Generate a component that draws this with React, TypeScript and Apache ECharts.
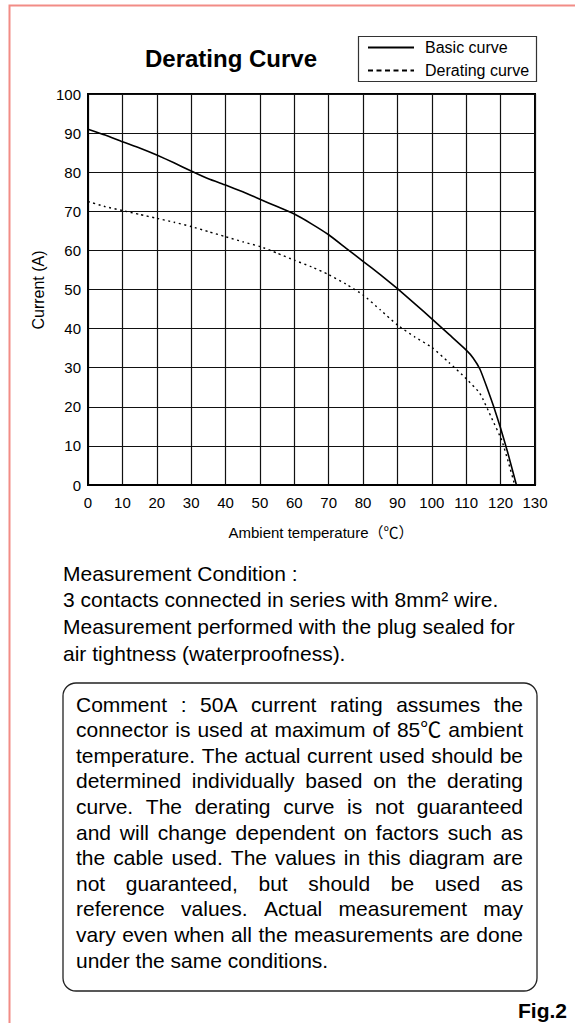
import React, { useEffect, useRef } from "react";
import * as echarts from "echarts";

// ---- Data ----
const basicTemps = [0, 5, 10, 15, 20, 25, 30, 35, 40, 45, 50, 55, 60, 65, 70, 75, 80, 85, 90, 95, 100, 105, 110, 112, 114, 116, 118, 120, 122, 124.6];
const basicCurrent = [91, 89.5, 87.8, 86.2, 84.4, 82.4, 80.3, 78.3, 76.7, 75.0, 73.1, 71.2, 69.3, 66.8, 64.0, 60.6, 57.2, 53.8, 50.2, 46.4, 42.5, 38.5, 34.5, 32.5, 29.6, 25.0, 20.0, 14.5, 8.5, 0];

const deratingTemps = [0, 5, 10, 15, 20, 25, 30, 35, 40, 45, 50, 55, 60, 65, 70, 75, 80, 85, 90, 95, 100, 105, 110, 114, 117.4, 120.3, 122.2, 124.1];
const deratingCurrent = [72.5, 71.2, 70.2, 69.2, 68.2, 67.2, 66.1, 64.8, 63.5, 62.2, 61.0, 59.3, 57.5, 55.8, 53.8, 51.4, 48.6, 44.8, 40.9, 37.9, 35.2, 31.3, 27.2, 23.4, 17.1, 11.5, 6.0, 0];

const seriesNames = ["Basic curve", "Derating curve"];
const chartTitle = "Derating Curve";
const xAxisName = "Ambient temperature（℃）";
const yAxisName = "Current (A)";
const figLabel = "Fig.2";

const measurementLines = [
  "Measurement Condition :",
  "3 contacts connected in series with 8mm² wire.",
  "Measurement performed with the plug sealed for",
  "air tightness (waterproofness).",
];

const commentLines = [
  "Comment : 50A current rating assumes the",
  "connector is used at maximum of 85℃ ambient",
  "temperature. The actual current used should be",
  "determined individually based on the derating",
  "curve. The derating curve is not guaranteed",
  "and will change dependent on factors such as",
  "the cable used. The values in this diagram are",
  "not guaranteed, but should be used as",
  "reference values. Actual measurement may",
  "vary even when all the measurements are done",
  "under the same conditions.",
];

const FONT = "'Liberation Sans', Arial, Helvetica, 'Noto Sans CJK JP', sans-serif";

export default function App() {
  const ref = useRef<HTMLDivElement>(null);

  useEffect(() => {
    document.body.style.margin = "0";
    if (!ref.current) return;
    const chart = echarts.init(ref.current, null, { renderer: "svg" });

    const bodySize = 21;
    const ctx = document.createElement("canvas").getContext("2d")!;
    ctx.font = `${bodySize}px ${FONT}`;
    const measure = (s: string) => ctx.measureText(s).width;

    const graphics: any[] = [];

    // outer red frame
    graphics.push({
      type: "rect",
      shape: { x: 9.5, y: 5.5, width: 700, height: 1200 },
      style: { fill: "none", stroke: "#f28c86", lineWidth: 2 },
      silent: true,
    });

    // title
    graphics.push({
      type: "text",
      x: 231,
      y: 58,
      style: { text: chartTitle, fontFamily: FONT, fontWeight: "bold", fontSize: 24, fill: "#000", align: "center", verticalAlign: "middle" },
    });

    // legend box
    graphics.push({
      type: "rect",
      shape: { x: 358.5, y: 36.5, width: 178, height: 45 },
      style: { fill: "#fff", stroke: "#333", lineWidth: 1.2 },
    });
    graphics.push({
      type: "line",
      shape: { x1: 368, y1: 47.5, x2: 414, y2: 47.5 },
      style: { stroke: "#000", lineWidth: 2 },
    });
    graphics.push({
      type: "line",
      shape: { x1: 368, y1: 70.5, x2: 414, y2: 70.5 },
      style: { stroke: "#000", lineWidth: 2, lineDash: [5, 3.5] },
    });
    seriesNames.forEach((name, i) => {
      graphics.push({
        type: "text",
        x: 425,
        y: 47 + i * 23,
        style: { text: name, fontFamily: FONT, fontSize: 16, fill: "#000", align: "left", verticalAlign: "middle" },
      });
    });

    // axis names
    graphics.push({
      type: "text",
      x: 321,
      y: 532,
      style: { text: xAxisName, fontFamily: FONT, fontSize: 15, fill: "#000", align: "center", verticalAlign: "middle" },
    });
    graphics.push({
      type: "text",
      x: 38,
      y: 290,
      rotation: Math.PI / 2,
      style: { text: yAxisName, fontFamily: FONT, fontSize: 16, fill: "#000", align: "center", verticalAlign: "middle" },
    });

    // measurement condition text
    measurementLines.forEach((line, i) => {
      graphics.push({
        type: "text",
        x: 63,
        y: 573 + i * 26.7,
        style: { text: line, fontFamily: FONT, fontSize: bodySize, fill: "#000", align: "left", verticalAlign: "middle" },
      });
    });

    // comment box
    graphics.push({
      type: "rect",
      shape: { x: 63, y: 683, width: 474, height: 308, r: 13 },
      style: { fill: "none", stroke: "#222", lineWidth: 1.3 },
    });

    const left = 76;
    const right = 523;
    const W = right - left;
    commentLines.forEach((line, i) => {
      const y = 704 + i * 25.6;
      const words = line.split(" ");
      if (i === commentLines.length - 1 || words.length < 2) {
        graphics.push({
          type: "text",
          x: left,
          y,
          style: { text: line, fontFamily: FONT, fontSize: bodySize, fill: "#000", align: "left", verticalAlign: "middle" },
        });
        return;
      }
      const widths = words.map(measure);
      const total = widths.reduce((a, b) => a + b, 0);
      const gap = (W - total) / (words.length - 1);
      let x = left;
      words.forEach((w, j) => {
        graphics.push({
          type: "text",
          x,
          y,
          style: { text: w, fontFamily: FONT, fontSize: bodySize, fill: "#000", align: "left", verticalAlign: "middle" },
        });
        x += widths[j] + gap;
      });
    });

    // Fig label
    graphics.push({
      type: "text",
      x: 567,
      y: 1010,
      style: { text: figLabel, fontFamily: FONT, fontWeight: "bold", fontSize: 21, fill: "#000", align: "right", verticalAlign: "middle" },
    });

    const axisCommon = {
      type: "value" as const,
      axisLine: { show: true, onZero: false, lineStyle: { color: "#000", width: 2 } },
      axisTick: { show: false },
      splitLine: { show: true, lineStyle: { color: "#111", width: 1.2 } },
      axisLabel: { color: "#000", fontSize: 15, fontFamily: FONT },
    };

    chart.setOption({
      animation: false,
      backgroundColor: "#fff",
      textStyle: { fontFamily: FONT },
      grid: { left: 88, top: 94, width: 447, height: 391, show: true, borderColor: "#000", borderWidth: 2, backgroundColor: "transparent" },
      xAxis: { ...axisCommon, min: 0, max: 130, interval: 10, axisLabel: { ...axisCommon.axisLabel, margin: 10 } },
      yAxis: { ...axisCommon, min: 0, max: 100, interval: 10, axisLabel: { ...axisCommon.axisLabel, margin: 7 } },
      series: [
        {
          name: seriesNames[0],
          type: "line",
          showSymbol: false,
          smooth: 0.15,
          data: basicTemps.map((t, i) => [t, basicCurrent[i]]),
          lineStyle: { color: "#000", width: 1.6 },
          z: 5,
        },
        {
          name: seriesNames[1],
          type: "line",
          showSymbol: false,
          smooth: 0.15,
          data: deratingTemps.map((t, i) => [t, deratingCurrent[i]]),
          lineStyle: { color: "#000", width: 1.4, type: [2, 3.5] },
          z: 5,
        },
      ],
      graphic: { elements: graphics },
    });

    return () => chart.dispose();
  }, []);

  return <div ref={ref} style={{ width: 575, height: 1023 }} />;
}
